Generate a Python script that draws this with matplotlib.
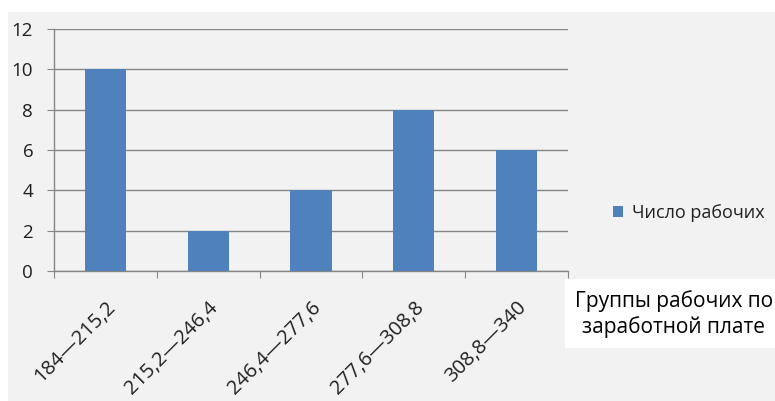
import matplotlib
matplotlib.use("Agg")
import matplotlib.pyplot as plt
from matplotlib.patches import Rectangle
from matplotlib.transforms import ScaledTranslation

plt.rcParams['font.family'] = ['Open Sans', 'DejaVu Sans']

categories = ["184—215,2", "215,2—246,4", "246,4—277,6", "277,6—308,8", "308,8—340"]
values = [10, 2, 4, 8, 6]
series_name = "Число рабочих"
axis_title = "Группы рабочих по\nзаработной плате"
yticks = [0, 2, 4, 6, 8, 10, 12]

W, H = 775, 401
fig = plt.figure(figsize=(W / 100, H / 100), dpi=100)
fig.patch.set_facecolor("white")
bg = "#f2f2f2"
fig.patches.append(Rectangle((8 / W, 0), 1 - 8 / W, 1 - 12 / H, transform=fig.transFigure,
                             facecolor=bg, edgecolor="none", zorder=-10))

ax = fig.add_axes([54 / W, 1 - 271 / H, (568 - 54) / W, (271 - 29) / H])
ax.set_facecolor(bg)
x = list(range(len(categories)))
bars = ax.bar(x, values, width=0.4, color="#4f81bd", zorder=3, label=series_name)
ax.set_xlim(-0.5, len(categories) - 0.5)
ax.set_ylim(0, 12)
ax.set_yticks(yticks)
ax.set_yticklabels([str(t) for t in yticks], fontsize=13.5, color="#202020")
ax.yaxis.grid(True, color="#868686", linewidth=1, zorder=0)
ax.set_axisbelow(True)
for s in ["top", "right"]:
    ax.spines[s].set_visible(False)
for s in ["left", "bottom"]:
    ax.spines[s].set_color("#868686")
    ax.spines[s].set_linewidth(1)
ax.tick_params(axis="y", length=5, color="#868686", pad=10)
ax.set_xticks([i - 0.5 for i in range(len(categories) + 1)])
ax.set_xticklabels([])
ax.tick_params(axis="x", which="major", length=5, color="#868686")
ax.set_xticks(x, minor=True)
ax.set_xticklabels(categories, minor=True, rotation=45, ha="right",
                   rotation_mode="anchor", fontsize=14.5, color="#202020")
ax.tick_params(axis="x", which="minor", length=0, pad=19)
for lab in ax.get_xticklabels(minor=True):
    lab.set_transform(lab.get_transform() + ScaledTranslation(0, 0, fig.dpi_scale_trans))

leg = fig.legend(handles=[bars], labels=[series_name], loc="center left",
                 bbox_to_anchor=(613 / W, 1 - 213 / H), frameon=False,
                 fontsize=13, handlelength=0.55, handleheight=0.55,
                 handletextpad=0.5, borderaxespad=0, borderpad=0)
for t in leg.get_texts():
    t.set_color("#202020")

fig.patches.append(Rectangle((565 / W, 1 - 348 / H), 210 / W, 69 / H,
                             transform=fig.transFigure, facecolor="white",
                             edgecolor="none", zorder=1))
fig.text(674 / W, 1 - 314 / H, axis_title, ha="center", va="center",
         fontsize=15, color="black", linespacing=1.25, zorder=2)

fig.savefig("out.png", dpi=100, facecolor=fig.get_facecolor())
